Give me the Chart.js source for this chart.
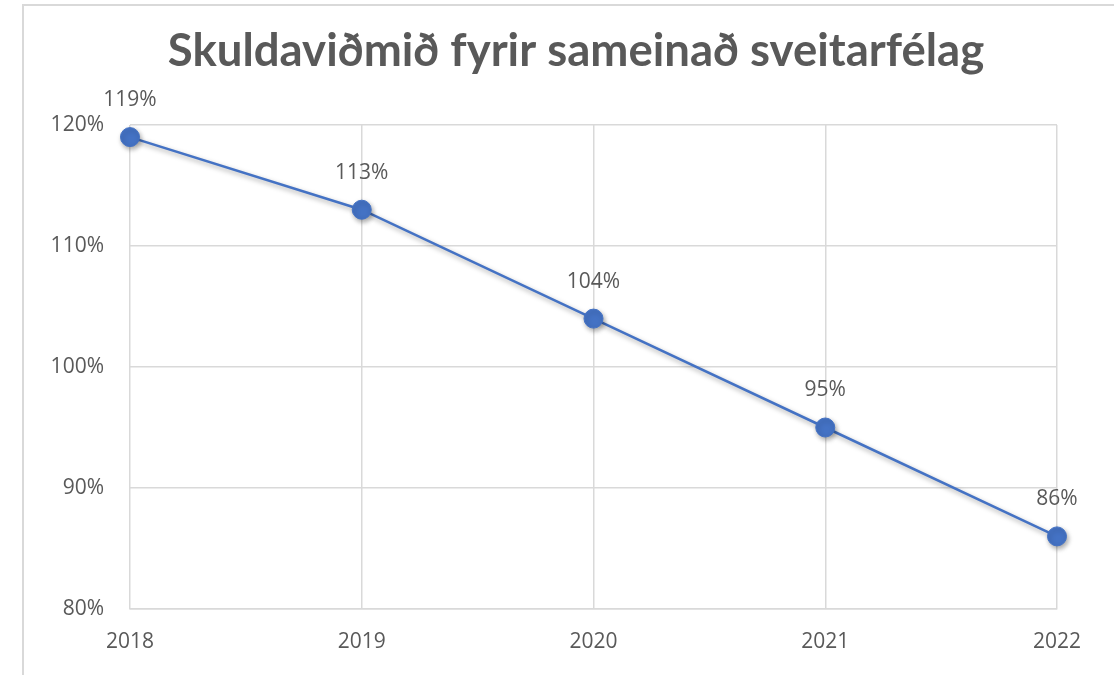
<!DOCTYPE html>
<html>
<head>
<meta charset="utf-8">
<script src="https://cdn.jsdelivr.net/npm/chart.js@4"></script>
<style>
  html, body { margin: 0; padding: 0; background: #ffffff; }
  #wrap { width: 1114px; height: 675px; position: relative; }
</style>
</head>
<body>
<div id="wrap"><canvas id="chart" width="1114" height="675"></canvas></div>
<script>
const title = 'Skuldaviðmið fyrir sameinað sveitarfélag';
const years = ['2018', '2019', '2020', '2021', '2022'];
const debtRatio = [119, 113, 104, 95, 86];
const yTicks = [80, 90, 100, 110, 120];

const TEXT = '#595959';
const GRID = '#d9d9d9';
const BLUE = '#4472c4';

// Outer frame and centred title
const framePlugin = {
  id: 'frame',
  beforeDraw(chart) {
    const ctx = chart.ctx;
    ctx.save();
    ctx.strokeStyle = GRID;
    ctx.lineWidth = 2;
    ctx.strokeRect(23, 5, 1120, 700);
    ctx.fillStyle = TEXT;
    ctx.font = 'bold 45.5px Lato';
    ctx.textAlign = 'center';
    ctx.textBaseline = 'alphabetic';
    ctx.fillText(title, 576, 66);
    ctx.restore();
  }
};

// Soft drop shadow under the line and markers
const shadowPlugin = {
  id: 'shadow',
  beforeDatasetsDraw(chart) {
    const ctx = chart.ctx;
    ctx.save();
    ctx.shadowColor = 'rgba(0,0,0,0.35)';
    ctx.shadowBlur = 5;
    ctx.shadowOffsetX = 1.5;
    ctx.shadowOffsetY = 2.5;
  },
  afterDatasetsDraw(chart) {
    chart.ctx.restore();
  }
};

// Value labels above each marker
const valueLabels = {
  id: 'valueLabels',
  afterDatasetsDraw(chart) {
    const ctx = chart.ctx;
    const meta = chart.getDatasetMeta(0);
    ctx.save();
    ctx.fillStyle = TEXT;
    ctx.font = '21px "Open Sans"';
    ctx.textAlign = 'center';
    ctx.textBaseline = 'middle';
    meta.data.forEach((pt, i) => {
      ctx.fillText(debtRatio[i] + '%', pt.x, pt.y - 37);
    });
    ctx.restore();
  }
};

new Chart(document.getElementById('chart'), {
  type: 'line',
  data: {
    labels: years,
    datasets: [{
      data: debtRatio,
      borderColor: BLUE,
      borderWidth: 2.5,
      backgroundColor: BLUE,
      pointBackgroundColor: BLUE,
      pointBorderColor: BLUE,
      pointRadius: 9.5,
      pointBorderWidth: 1,
      pointHoverRadius: 9.5,
      tension: 0,
      clip: false
    }]
  },
  options: {
    responsive: false,
    animation: false,
    events: [],
    layout: { padding: { top: 125, right: 57, bottom: 0, left: 0 } },
    plugins: {
      legend: { display: false },
      title: { display: false },
      tooltip: { enabled: false }
    },
    scales: {
      x: {
        offset: false,
        grid: { color: GRID, lineWidth: 1.5, drawTicks: false },
        border: { color: GRID, width: 1.5 },
        ticks: { color: TEXT, font: { family: 'Open Sans', size: 21 }, padding: 20, maxRotation: 0 },
        afterFit(scale) { scale.height = 66; }
      },
      y: {
        min: 80,
        max: 120,
        afterBuildTicks(scale) { scale.ticks = yTicks.map(v => ({ value: v })); },
        grid: { color: GRID, lineWidth: 1.5, drawTicks: false },
        border: { display: false },
        ticks: {
          color: TEXT,
          font: { family: 'Open Sans', size: 21 },
          padding: 26,
          callback: v => v + '%'
        },
        afterFit(scale) { scale.width = 130; }
      }
    }
  },
  plugins: [framePlugin, shadowPlugin, valueLabels]
});
</script>
</body>
</html>
